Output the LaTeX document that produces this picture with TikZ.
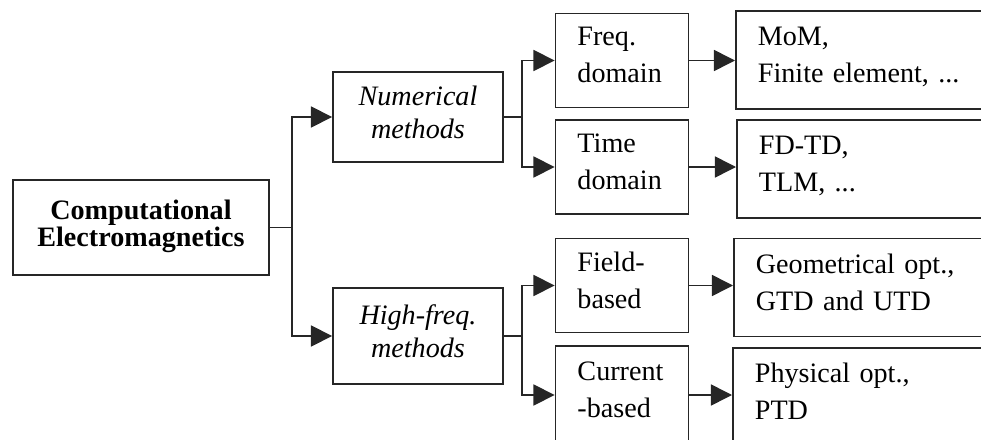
\documentclass[tikz,border=0pt]{standalone}
\usepackage{fontspec}
\setmainfont{Liberation Serif}
\usetikzlibrary{arrows.meta}

\begin{document}
\begin{tikzpicture}[x=0.025cm, y=-0.025cm, >={Triangle[length=15pt, width=15pt]}, line width=1.1pt, draw=black!85]

    % Define the styles for the nodes
    \tikzstyle{cembox} = [draw=black!85, line width=1.3pt, execute at end node=\strut]
    \tikzstyle{topbox} = [cembox, align=center, font=\bfseries\fontsize{20}{19}\selectfont, minimum width=6.4cm, minimum height=2.375cm]
    \tikzstyle{groupbox} = [cembox, align=center, font=\itshape\fontsize{20}{23.5}\selectfont, minimum width=4.25cm]
    \tikzstyle{stagebox} = [cembox, align=left, font=\fontsize{20}{26.3}\selectfont, text width=2.225cm, inner xsep=0.55cm, minimum height=2.35cm]
    \tikzstyle{listbox} = [cembox, align=left, font=\fontsize{20}{26.3}\selectfont, text width=5.4cm, inner xsep=0.55cm, minimum height=2.45cm, anchor=west]

    \useasboundingbox (0,0) rectangle (981,440);
    \clip (0,0) rectangle (981,440);

    % Nodes
    \node (root) [topbox] at (141,227.5) {Computational\\Electromagnetics};
    \node (num) [groupbox, minimum height=2.25cm] at (418,117) {Numerical\\methods};
    \node (high) [groupbox, minimum height=2.4cm] at (418,336) {High-freq.\\methods};

    \node (freq) [stagebox] at (622,60.5) {Freq.\\domain};
    \node (time) [stagebox] at (622,167) {Time\\domain};
    \node (field) [stagebox] at (622,285.5) {Field-\\based};
    \node (current) [stagebox, minimum height=2.45cm] at (622,395) {Current\\-based};

    \node (mom) [listbox] at (735,60) {MoM,\\Finite element, ...};
    \node (fdtd) [listbox] at (736,169) {FD-TD,\\TLM, ...};
    \node (geo) [listbox] at (733,287.5) {Geometrical opt.,\\GTD and UTD};
    \node (phys) [listbox] at (732,397) {Physical opt.,\\PTD};

    % Arrows
    \draw[->] (root.east) -- ++(22,0) |- (num.west);
    \draw[->] (root.east) -- ++(22,0) |- (high.west);
    \draw[->] (num.east) -- ++(18,0) |- (freq.west);
    \draw[->] (num.east) -- ++(18,0) |- (time.west);
    \draw[->] (high.east) -- ++(18,0) |- (field.west);
    \draw[->] (high.east) -- ++(18,0) |- (current.west);
    \draw[->] (freq.east) -- (freq.east -| mom.west);
    \draw[->] (time.east) -- (time.east -| fdtd.west);
    \draw[->] (field.east) -- (field.east -| geo.west);
    \draw[->] (current.east) -- (current.east -| phys.west);

\end{tikzpicture}
\end{document}
